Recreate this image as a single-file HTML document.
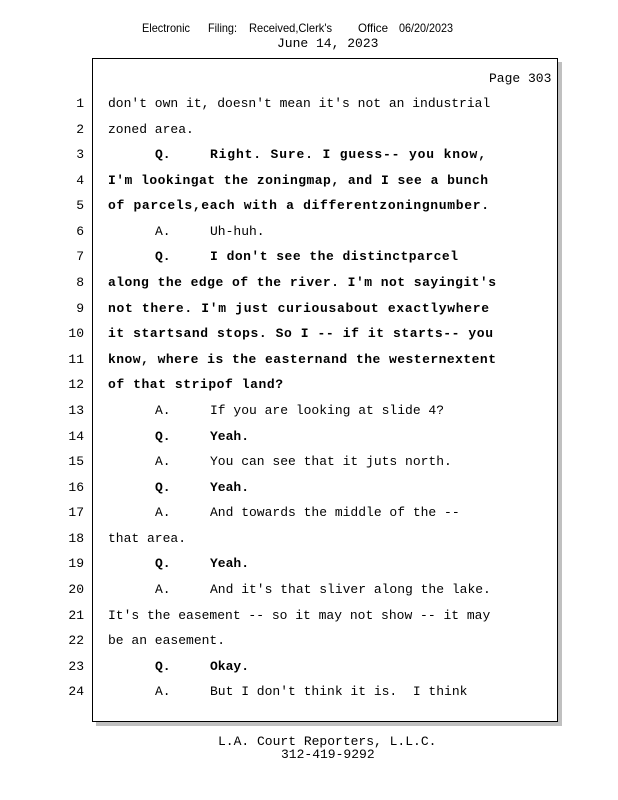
<!DOCTYPE html>
<html><head><meta charset="utf-8"><style>
html,body{margin:0;padding:0;background:#fff}
svg{display:block}
.m{font-family:"Liberation Mono",monospace;font-size:13px;fill:#000;white-space:pre}
.b{font-weight:bold}
.s{font-family:"Liberation Sans",sans-serif;font-size:12px;fill:#000}
</style></head><body>
<svg width="618" height="800" xmlns="http://www.w3.org/2000/svg">
<text class="s" x="142" y="32" textLength="48" lengthAdjust="spacingAndGlyphs">Electronic</text>
<text class="s" x="208" y="32" textLength="29" lengthAdjust="spacingAndGlyphs">Filing:</text>
<text class="s" x="249" y="32" textLength="83" lengthAdjust="spacingAndGlyphs">Received,Clerk's</text>
<text class="s" x="358" y="32" textLength="30" lengthAdjust="spacingAndGlyphs">Office</text>
<text class="s" x="399" y="32" textLength="54" lengthAdjust="spacingAndGlyphs">06/20/2023</text>
<text class="m" x="277" y="47">June 14, 2023</text>
<rect x="96" y="62" width="466" height="664" fill="#c0c0c0"/>
<rect x="92.5" y="58.5" width="465" height="663" fill="#fff" stroke="#000" stroke-width="1"/>
<text class="m" x="489" y="82">Page 303</text>
<g class="m" text-anchor="end">
<text x="84" y="107">1</text><text x="84" y="133">2</text><text x="84" y="158">3</text><text x="84" y="184">4</text><text x="84" y="209">5</text><text x="84" y="235">6</text><text x="84" y="260">7</text><text x="84" y="286">8</text><text x="84" y="312">9</text><text x="84" y="337">10</text><text x="84" y="363">11</text><text x="84" y="388">12</text><text x="84" y="414">13</text><text x="84" y="440">14</text><text x="84" y="465">15</text><text x="84" y="491">16</text><text x="84" y="516">17</text><text x="84" y="542">18</text><text x="84" y="567">19</text><text x="84" y="593">20</text><text x="84" y="619">21</text><text x="84" y="644">22</text><text x="84" y="670">23</text><text x="84" y="695">24</text>
</g>
<text class="m" x="108" y="107">don't own it, doesn't mean it's not an industrial</text>
<text class="m" x="108" y="133">zoned area.</text>
<text class="m b" x="155" y="158">Q.</text><text class="m b" x="210" y="158" textLength="276" lengthAdjust="spacing">Right. Sure. I guess-- you know,</text>
<text class="m b" x="108" y="184" textLength="380" lengthAdjust="spacing">I'm lookingat the zoningmap, and I see a bunch</text>
<text class="m b" x="108" y="209" textLength="381" lengthAdjust="spacing">of parcels,each with a differentzoningnumber.</text>
<text class="m" x="155" y="235">A.</text><text class="m" x="210" y="235">Uh-huh.</text>
<text class="m b" x="155" y="260">Q.</text><text class="m b" x="210" y="260" textLength="248" lengthAdjust="spacing">I don't see the distinctparcel</text>
<text class="m b" x="108" y="286" textLength="388" lengthAdjust="spacing">along the edge of the river. I'm not sayingit's</text>
<text class="m b" x="108" y="312" textLength="381" lengthAdjust="spacing">not there. I'm just curiousabout exactlywhere</text>
<text class="m b" x="108" y="337" textLength="385" lengthAdjust="spacing">it startsand stops. So I -- if it starts-- you</text>
<text class="m b" x="108" y="363" textLength="388" lengthAdjust="spacing">know, where is the easternand the westernextent</text>
<text class="m b" x="108" y="388" textLength="175" lengthAdjust="spacing">of that stripof land?</text>
<text class="m" x="155" y="414">A.</text><text class="m" x="210" y="414">If you are looking at slide 4?</text>
<text class="m b" x="155" y="440">Q.</text><text class="m b" x="210" y="440">Yeah.</text>
<text class="m" x="155" y="465">A.</text><text class="m" x="210" y="465">You can see that it juts north.</text>
<text class="m b" x="155" y="491">Q.</text><text class="m b" x="210" y="491">Yeah.</text>
<text class="m" x="155" y="516">A.</text><text class="m" x="210" y="516">And towards the middle of the --</text>
<text class="m" x="108" y="542">that area.</text>
<text class="m b" x="155" y="567">Q.</text><text class="m b" x="210" y="567">Yeah.</text>
<text class="m" x="155" y="593">A.</text><text class="m" x="210" y="593">And it's that sliver along the lake.</text>
<text class="m" x="108" y="619">It's the easement -- so it may not show -- it may</text>
<text class="m" x="108" y="644">be an easement.</text>
<text class="m b" x="155" y="670">Q.</text><text class="m b" x="210" y="670">Okay.</text>
<text class="m" x="155" y="695">A.</text><text class="m" x="210" y="695">But I don't think it is.  I think</text>
<text class="m" x="218" y="745">L.A. Court Reporters, L.L.C.</text>
<text class="m" x="281" y="758">312-419-9292</text>
</svg>
</body></html>
